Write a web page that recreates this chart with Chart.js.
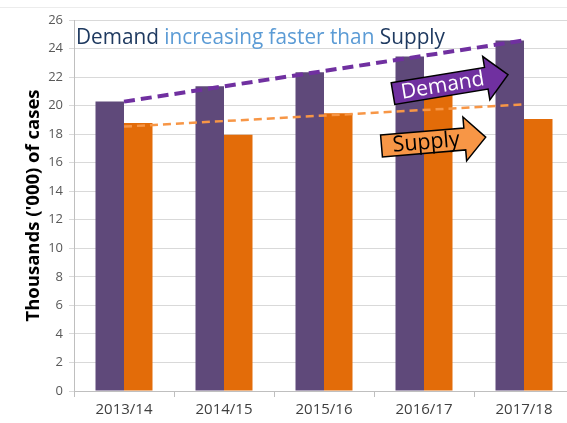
<!DOCTYPE html>
<html><head><meta charset="utf-8">
<script src="https://cdn.jsdelivr.net/npm/chart.js@4/dist/chart.umd.min.js"></script>
<style>
html,body{margin:0;padding:0;background:#fff;overflow:hidden;width:567px;height:423px}
#wrap{position:relative;width:600px;height:423px}
</style></head>
<body><div id="wrap"><canvas id="c" width="600" height="423"></canvas></div>
<script>
// ---- data ----
const categories = ['2013/14', '2014/15', '2015/16', '2016/17', '2017/18'];
const demand = [20.28, 21.35, 22.33, 23.45, 24.57];
const supply = [18.79, 17.95, 19.46, 20.75, 19.07];
const demandTrend = [20.28, null, null, null, 24.57];
const supplyTrend = [18.53, null, null, null, 20.08];
const yMin = 0, yMax = 26, yStep = 2;
const titleParts = [['Demand ', '#1F3A60'], ['increasing faster than ', '#5B9BD5'], ['Supply', '#1F3A60']];
const yTitle = "Thousands ('000) of cases";
const arrowLabels = ['Demand', 'Supply'];

// ---- annotation layout (not data) ----
const FONT = '"Open Sans", "DejaVu Sans", sans-serif';
const arrowCfg = [
  {tail: [2.69, 20.84], tip: [3.84, 22.17], bh: 11, hh: 22, hl: 22, fill: '#7030A0', color: '#FFFFFF', size: 21, w: 84},
  {tail: [2.575, 17.17], tip: [3.617, 17.79], bh: 11, hh: 22, hl: 21, fill: '#F79646', color: '#000000', size: 22, w: 67}
];

function fitText(ctx, text, x, y, size, weight, targetW, align) {
  ctx.font = weight + ' ' + size + 'px ' + FONT;
  const w = ctx.measureText(text).width;
  const k = targetW / w;
  ctx.save();
  ctx.translate(x, y);
  ctx.scale(k, 1);
  ctx.textAlign = align;
  ctx.fillText(text, 0, 0);
  ctx.restore();
}

function drawArrow(ctx, x0, y0, x1, y1, a, label) {
  const ang = Math.atan2(y1 - y0, x1 - x0);
  const len = Math.hypot(x1 - x0, y1 - y0);
  ctx.save();
  ctx.translate(x0, y0);
  ctx.rotate(ang);
  ctx.beginPath();
  ctx.moveTo(0, -a.bh);
  ctx.lineTo(len - a.hl, -a.bh);
  ctx.lineTo(len - a.hl, -a.hh);
  ctx.lineTo(len, 0);
  ctx.lineTo(len - a.hl, a.hh);
  ctx.lineTo(len - a.hl, a.bh);
  ctx.lineTo(0, a.bh);
  ctx.closePath();
  ctx.fillStyle = a.fill;
  ctx.fill();
  ctx.lineWidth = 1.5;
  ctx.strokeStyle = '#000';
  ctx.lineJoin = 'miter';
  ctx.stroke();
  ctx.fillStyle = a.color;
  ctx.textBaseline = 'middle';
  fitText(ctx, label, (len - a.hl) / 2 + 3, 0.5, a.size, 'normal', a.w, 'center');
  ctx.restore();
}

const annot = {
  id: 'annot',
  beforeDraw(chart) {
    const ctx = chart.ctx;
    ctx.save();
    ctx.fillStyle = '#fff';
    ctx.fillRect(0, 0, chart.width, chart.height);
    ctx.strokeStyle = '#ECECEC';
    ctx.lineWidth = 1;
    ctx.beginPath(); ctx.moveTo(0, 7.5); ctx.lineTo(chart.width, 7.5); ctx.stroke();
    ctx.restore();
  },
  afterDraw(chart) {
    const ctx = chart.ctx;
    const xs = chart.scales.x, ys = chart.scales.y;
    // title (three coloured parts, condensed to the reference width)
    ctx.save();
    const full = titleParts.map(p => p[0]).join('');
    const tSize = 21;
    ctx.font = tSize + 'px ' + FONT;
    const k = 369 / ctx.measureText(full).width;
    ctx.translate(76, 44);
    ctx.scale(k, 1);
    ctx.textBaseline = 'alphabetic';
    ctx.textAlign = 'left';
    let x = 0;
    for (const [t, c] of titleParts) {
      ctx.fillStyle = c;
      ctx.fillText(t, x, 0);
      x += ctx.measureText(t).width;
    }
    ctx.restore();
    // y title
    ctx.save();
    ctx.translate(34, (chart.chartArea.top + chart.chartArea.bottom) / 2);
    ctx.rotate(-Math.PI / 2);
    ctx.fillStyle = '#000';
    ctx.textBaseline = 'middle';
    fitText(ctx, yTitle, 0, 0, 18, 'bold', 232, 'center');
    ctx.restore();
    // arrows
    arrowCfg.forEach((a, i) => {
      drawArrow(ctx,
        xs.getPixelForValue(a.tail[0]), ys.getPixelForValue(a.tail[1]),
        xs.getPixelForValue(a.tip[0]), ys.getPixelForValue(a.tip[1]),
        a, arrowLabels[i]);
    });
  }
};

new Chart(document.getElementById('c'), {
  type: 'bar',
  data: {
    labels: categories,
    datasets: [
      {type: 'line', label: 'Demand trend', data: demandTrend, spanGaps: true, borderColor: '#7030A0',
       borderWidth: 4, borderDash: [11, 6], pointRadius: 0, fill: false, order: 0},
      {type: 'line', label: 'Supply trend', data: supplyTrend, spanGaps: true, borderColor: '#F79646',
       borderWidth: 2.5, borderDash: [8, 5], pointRadius: 0, fill: false, order: 0},
      {type: 'bar', label: 'Demand', data: demand, backgroundColor: '#5F497A', order: 1,
       categoryPercentage: 0.57, barPercentage: 1},
      {type: 'bar', label: 'Supply', data: supply, backgroundColor: '#E36C09', order: 1,
       categoryPercentage: 0.57, barPercentage: 1}
    ]
  },
  options: {
    responsive: false,
    animation: false,
    events: [],
    layout: {padding: {top: 20, right: 26, left: 0, bottom: 0}},
    plugins: {legend: {display: false}, tooltip: {enabled: false}, title: {display: false}},
    scales: {
      x: {
        offset: true,
        grid: {offset: true, drawOnChartArea: false, drawTicks: true, tickLength: 6, color: '#BFBFBF'},
        border: {color: '#BFBFBF'},
        ticks: {font: {family: FONT, size: 15}, color: '#404040', padding: 4},
        afterFit(s) { s.height = 32; }
      },
      y: {
        min: yMin, max: yMax,
        ticks: {stepSize: yStep, font: {family: FONT, size: 13}, color: '#595959', padding: 6},
        grid: {color: '#D9D9D9', tickLength: 5},
        border: {color: '#BFBFBF'},
        afterFit(s) { s.width = 74; }
      }
    }
  },
  plugins: [annot]
});
</script>
</body></html>
